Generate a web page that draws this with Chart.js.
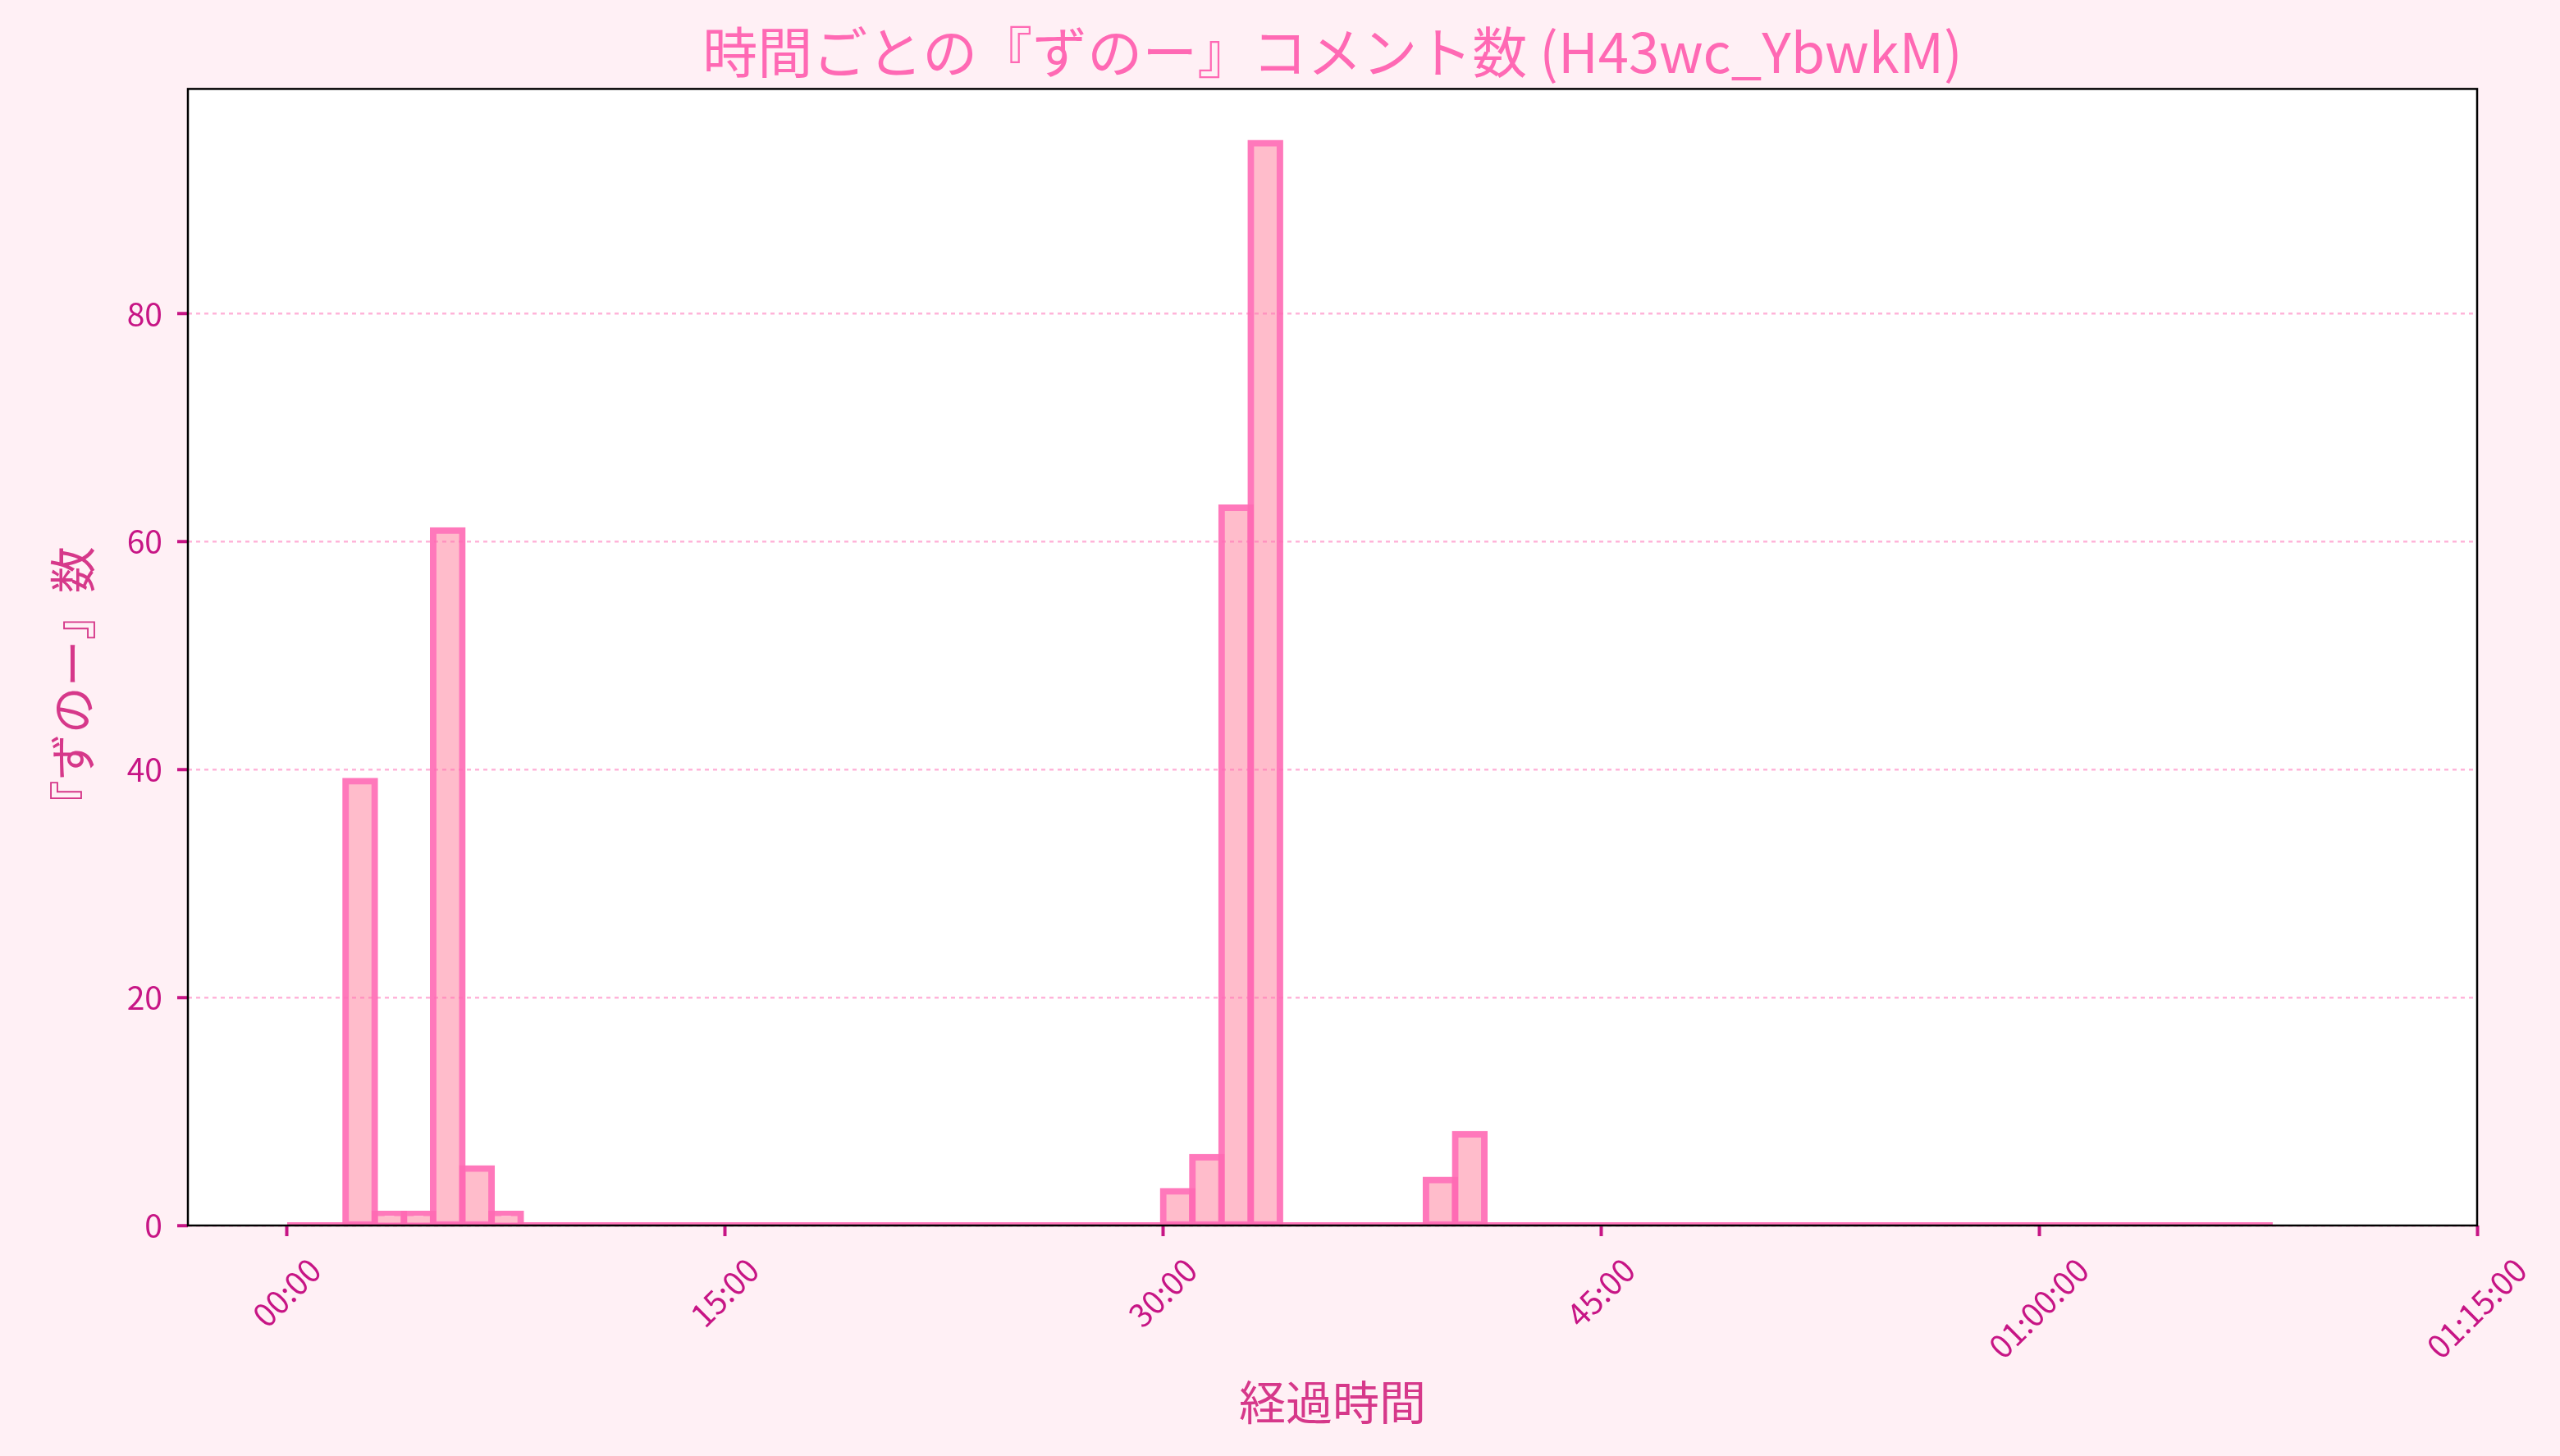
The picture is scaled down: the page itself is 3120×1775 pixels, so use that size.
<!DOCTYPE html>
<html lang="ja">
<head>
<meta charset="utf-8">
<title>ずのー コメント数</title>
<script src="https://cdn.jsdelivr.net/npm/chart.js@4.4.1/dist/chart.umd.min.js"></script>
<style>
  html, body { margin: 0; padding: 0; background: #fff0f5; }
  canvas { display: block; }
</style>
</head>
<body>
<canvas id="grafico" width="3120" height="1775" style="width:3120px;height:1775px"></canvas>
<script>
// 1分ごとのビン (単位: 分)
const binWidth = 1
const counts = [
  0, 0, 39, 1, 1, 61, 5, 1,
  0, 0, 0, 0, 0, 0, 0, 0, 0, 0, 0, 0, 0, 0, 0, 0, 0, 0, 0, 0, 0, 0,
  3, 6, 63, 95,
  0, 0, 0, 0, 0,
  4, 8,
  0, 0, 0, 0, 0, 0, 0, 0, 0, 0, 0, 0, 0, 0, 0, 0, 0, 0, 0, 0, 0, 0, 0, 0, 0, 0, 0
]
const xTickMinutes = [0, 15, 30, 45, 60, 75]
const xTickLabels = ["00:00", "15:00", "30:00", "45:00", "01:00:00", "01:15:00"]
const yTickValues = [0, 20, 40, 60, 80]

const titulo = "時間ごとの『ずのー』コメント数 (H43wc_YbwkM)"
const xTitulo = "経過時間"
const yTitulo = "『ずのー』数"

const FONT = "'Noto Sans CJK JP', 'Noto Sans', sans-serif"
const TICK_COLOR = "#c71585"
const LABEL_COLOR = "#d6388a"
const EDGE = "rgba(255, 105, 180, 0.9)"
const FILL = "#ffbccb"

const barData = counts.map((c, i) => ({ x: i * binWidth + binWidth / 2, y: c }))
const baseLine = [
  { x: 0, y: 0 },
  { x: counts.length * binWidth, y: 0 }
]

const fondo = {
  id: "fondo",
  beforeDraw(chart) {
    const { ctx, chartArea } = chart
    ctx.save()
    ctx.fillStyle = "#fff0f5"
    ctx.fillRect(0, 0, chart.width, chart.height)
    ctx.fillStyle = "#ffffff"
    ctx.fillRect(chartArea.left, chartArea.top, chartArea.right - chartArea.left, chartArea.bottom - chartArea.top)
    ctx.restore()
  }
}

// marco negro, etiquetas del eje x giradas 45° (centradas como matplotlib) y titulo del eje y
const marco = {
  id: "marco",
  afterDraw(chart) {
    const { ctx, chartArea } = chart
    const xs = chart.scales.x
    ctx.save()
    ctx.strokeStyle = "#000000"
    ctx.lineWidth = 2.5
    ctx.strokeRect(chartArea.left, chartArea.top, chartArea.right - chartArea.left, chartArea.bottom - chartArea.top)

    ctx.font = `39px ${FONT}`
    ctx.fillStyle = TICK_COLOR
    ctx.textAlign = "center"
    ctx.textBaseline = "alphabetic"
    const inkH = 28
    xTickMinutes.forEach((m, i) => {
      const label = xTickLabels[i]
      const w = ctx.measureText(label).width
      const side = (w + inkH) * Math.SQRT1_2
      const cx = xs.getPixelForValue(m)
      const cy = xs.top + 38 + side / 2
      ctx.save()
      ctx.translate(cx, cy)
      ctx.rotate(-Math.PI / 4)
      ctx.fillText(label, 0, inkH / 2)
      ctx.restore()
    })

    // 『ずのー』数 (un poco por debajo del centro, como en el original)
    ctx.font = `57px ${FONT}`
    ctx.fillStyle = LABEL_COLOR
    ctx.textAlign = "center"
    ctx.textBaseline = "middle"
    ctx.translate(88, (chartArea.top + chartArea.bottom) / 2 + 36)
    ctx.rotate(-Math.PI / 2)
    ctx.fillText(yTitulo, 0, 0)
    ctx.restore()
  }
}

const graph = document.getElementById("grafico")

const renderGraph = new Chart(graph, {
  type: "bar",
  data: {
    datasets: [
      {
        label: "ずのー",
        data: barData,
        backgroundColor: (c) => (c.raw && c.raw.y > 0 ? FILL : "rgba(0,0,0,0)"),
        borderColor: EDGE,
        borderWidth: 8,
        borderSkipped: false,
        inflateAmount: 4,
        barPercentage: 1,
        categoryPercentage: 1,
        clip: 0,
        order: 0
      },
      {
        type: "line",
        label: "base",
        data: baseLine,
        borderColor: EDGE,
        borderWidth: 8,
        pointRadius: 0,
        fill: false,
        clip: 0,
        order: 1
      }
    ]
  },
  options: {
    responsive: false,
    devicePixelRatio: 1,
    animation: false,
    layout: { padding: { left: 0, right: 101, top: 0, bottom: 0 } },
    plugins: {
      legend: { display: false },
      tooltip: { enabled: false },
      title: {
        display: true,
        fullSize: false,
        text: titulo,
        color: "#ff69b4",
        font: { family: FONT, size: 67, weight: "normal" },
        padding: { top: 23, bottom: 5 }
      }
    },
    scales: {
      x: {
        type: "linear",
        min: -3.4,
        max: 75,
        offset: false,
        afterBuildTicks: (axis) => { axis.ticks = xTickMinutes.map((v) => ({ value: v })) },
        afterFit: (axis) => { axis.height = 281 },
        ticks: { display: false },
        grid: {
          offset: false,
          drawOnChartArea: false,
          drawTicks: true,
          tickLength: 13,
          tickWidth: 4,
          tickColor: TICK_COLOR
        },
        border: { display: false },
        title: {
          display: true,
          text: xTitulo,
          color: LABEL_COLOR,
          font: { family: FONT, size: 57 },
          padding: { top: 0, bottom: 31 }
        }
      },
      y: {
        min: 0,
        max: 99.75,
        afterBuildTicks: (axis) => { axis.ticks = yTickValues.map((v) => ({ value: v })) },
        afterFit: (axis) => { axis.width = 229 },
        ticks: {
          color: TICK_COLOR,
          font: { family: FONT, size: 39 },
          padding: 18
        },
        grid: {
          z: 1,
          color: "rgba(255, 105, 180, 0.5)",
          lineWidth: 2.5,
          tickLength: 13,
          tickWidth: 4,
          tickColor: TICK_COLOR,
          tickBorderDash: []
        },
        border: { display: false, dash: [5, 5] },
        title: { display: false }
      }
    }
  },
  plugins: [fondo, marco]
})
</script>
</body>
</html>
